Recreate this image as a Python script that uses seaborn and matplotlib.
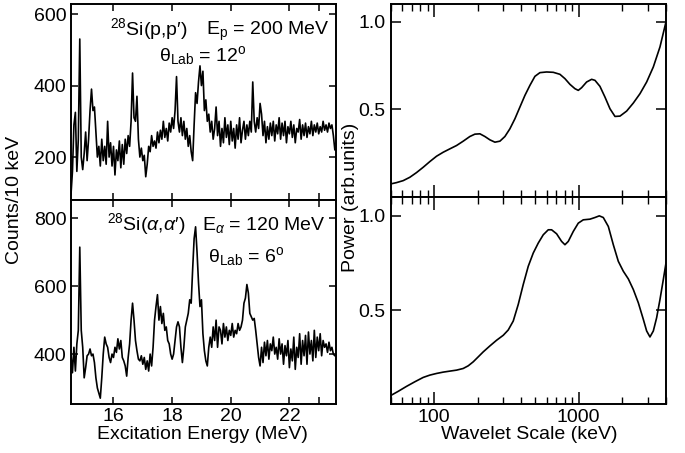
import numpy as np
import pandas as pd
import matplotlib
matplotlib.use("Agg")
import matplotlib.pyplot as plt
import seaborn as sns
from matplotlib.ticker import FixedLocator, FixedFormatter, NullFormatter, LogLocator

# ---------------- data ----------------
# excitation-energy channel grid (MeV)
e_start = 14.55
e_step = 0.05

# 28Si(p,p') Ep = 200 MeV, theta = 12 deg  (counts / 10 keV)
pp_counts = [
    95, 160, 290, 325, 160, 250, 530, 200, 165, 210, 270, 190, 250, 330, 390, 330, 340, 270, 200, 230,
    175, 250, 190, 230, 180, 300, 200, 240, 175, 230, 150, 220, 190, 245, 170, 235, 180, 250, 210, 260,
    230, 300, 435, 310, 300, 370, 250, 200, 225, 190, 205, 145, 180, 230, 215, 260, 230, 245, 225, 270,
    240, 275, 250, 300, 255, 280, 245, 295, 270, 310, 280, 330, 425, 300, 270, 310, 260, 300, 250, 280,
    230, 260, 215, 190, 290, 380, 350, 410, 455, 400, 440, 330, 360, 300, 320, 270, 300, 250, 280, 340,
    260, 300, 230, 280, 240, 310, 255, 290, 235, 300, 245, 280, 225, 290, 250, 310, 240, 275, 300, 250,
    290, 260, 300, 270, 410, 300, 270, 310, 280, 350, 320, 260, 300, 240, 285, 250, 295, 260, 300, 245,
    290, 265, 310, 250, 295, 260, 300, 240, 285, 265, 300, 255, 290, 240, 280, 270, 305, 250, 290, 260,
    295, 255, 285, 265, 300, 260, 290, 270, 295, 265, 285, 270, 300, 275, 290, 270, 295, 280, 290, 260,
    220,
]

# 28Si(a,a') Ea = 120 MeV, theta = 6 deg  (counts / 10 keV)
aa_counts = [
    400, 345, 420, 350, 430, 470, 715, 470, 420, 330, 360, 395, 400, 415, 395, 400, 375, 330, 300, 285,
    270, 330, 400, 450, 430, 420, 390, 375, 400, 390, 420, 405, 445, 415, 440, 390, 380, 365, 335, 390,
    430, 500, 550, 500, 440, 410, 385, 380, 395, 370, 390, 355, 380, 350, 400, 365, 420, 500, 540, 575,
    500, 540, 490, 520, 470, 480, 440, 430, 400, 385, 400, 440, 480, 495, 480, 420, 375, 420, 480, 500,
    520, 560, 550, 650, 740, 775, 700, 610, 540, 560, 460, 410, 380, 365, 420, 450, 420, 480, 440, 500,
    420, 480, 470, 430, 490, 450, 480, 440, 470, 455, 490, 450, 470, 460, 490, 470, 480, 500, 550, 565,
    605, 580, 520, 510, 500, 505, 470, 430, 390, 365, 420, 375, 435, 395, 440, 385, 430, 410, 450, 400,
    420, 385, 445, 400, 430, 370, 425, 395, 440, 360, 415, 380, 450, 355, 420, 390, 460, 370, 440, 395,
    455, 370, 465, 400, 440, 380, 470, 390, 450, 410, 460, 395, 440, 420, 430, 405, 435, 410, 420, 400,
    395,
]

# wavelet power spectra (scale in keV, power in arb. units)
scale_top = [49.8, 54.8, 61.0, 67.8, 75.4, 83.9, 93.3, 103.8, 115.5, 128.3, 142.8, 158.8, 176.6,
             191.3, 207.3, 224.4, 243.1, 263.3, 285.1, 308.8, 334.3, 362.2, 392.2, 424.9, 460.1,
             498.3, 539.6, 600.1, 667.5, 742.4, 804.2, 871.0, 943.2, 994.7, 1049, 1136, 1231, 1298,
             1405, 1522, 1649, 1786, 1934, 2151, 2392, 2660, 2959, 3291, 3660, 4028]
power_top = [0.0744, 0.0821, 0.0935, 0.1126, 0.1393, 0.1698, 0.2023, 0.2328, 0.2557, 0.2748,
             0.2939, 0.3187, 0.3454, 0.3588, 0.3607, 0.3454, 0.3263, 0.3130, 0.3187, 0.3454,
             0.3893, 0.4466, 0.5134, 0.5802, 0.6374, 0.6889, 0.7099, 0.7137, 0.7118, 0.7004,
             0.6756, 0.6431, 0.6183, 0.6088, 0.6240, 0.6565, 0.6718, 0.6660, 0.6317, 0.5706,
             0.5038, 0.4599, 0.4618, 0.4905, 0.5363, 0.5897, 0.6565, 0.7424, 0.8569, 1.0]

scale_bot = [49.8, 56.3, 64.3, 73.5, 83.9, 93.3, 103.8, 115.5, 128.3, 142.8, 158.8, 172.0, 186.3,
             201.8, 218.5, 243.1, 270.3, 300.7, 325.6, 352.7, 381.9, 413.6, 448.0, 485.2, 525.5,
             569.1, 616.4, 650.0, 704.0, 762.4, 804.2, 848.0, 918.5, 994.7, 1077, 1198, 1298, 1391,
             1482, 1606, 1739, 1883, 2040, 2209, 2392, 2591, 2806, 2959, 3120, 3291, 3470, 3660,
             3860, 4028]
power_bot = [0.0458, 0.0687, 0.0951, 0.1197, 0.1426, 0.1549, 0.1637, 0.1708, 0.1761, 0.1813,
             0.1901, 0.2042, 0.2254, 0.2518, 0.2782, 0.3099, 0.3398, 0.3662, 0.3944, 0.4419,
             0.5299, 0.6356, 0.7324, 0.8028, 0.8556, 0.8996, 0.9261, 0.9261, 0.9049, 0.8644,
             0.8468, 0.8644, 0.9173, 0.9613, 0.9789, 0.9824, 0.9912, 1.0, 0.9912, 0.9437,
             0.8468, 0.7588, 0.7060, 0.6655, 0.6092, 0.5387, 0.4507, 0.3891, 0.3574, 0.3891,
             0.4595, 0.5563, 0.6620, 0.7500]

# ---------------- style ----------------
sns.set_theme(style="ticks")
plt.rcParams["font.family"] = ["Liberation Sans", "DejaVu Sans"]
plt.rcParams["mathtext.fontset"] = "custom"
plt.rcParams["mathtext.rm"] = "Liberation Sans"
plt.rcParams["mathtext.it"] = "Liberation Sans:italic"
plt.rcParams["mathtext.bf"] = "Liberation Sans:bold"
plt.rcParams["axes.linewidth"] = 1.4
for k in ("text.color", "axes.labelcolor", "xtick.color", "ytick.color", "axes.edgecolor"):
    plt.rcParams[k] = "black"

TICK_FS = 14
LABEL_FS = 14
ANN_FS = 14

fig = plt.figure(figsize=(6.85, 4.53), dpi=100)

ax_pp = fig.add_axes([0.1032, 0.5585, 0.3869, 0.4327])
ax_aa = fig.add_axes([0.1032, 0.1075, 0.3869, 0.4510])
ax_wt = fig.add_axes([0.5704, 0.5651, 0.4019, 0.4254])
ax_wb = fig.add_axes([0.5704, 0.1075, 0.4019, 0.4576])

line_kw = dict(color="black", linewidth=1.2, legend=False)

df_pp = pd.DataFrame({"E": e_start + e_step * np.arange(len(pp_counts)), "c": pp_counts})
df_aa = pd.DataFrame({"E": e_start + e_step * np.arange(len(aa_counts)), "c": aa_counts})
sns.lineplot(data=df_pp, x="E", y="c", ax=ax_pp, **line_kw)
sns.lineplot(data=df_aa, x="E", y="c", ax=ax_aa, **line_kw)

df_wt = pd.DataFrame({"s": scale_top, "p": power_top})
df_wb = pd.DataFrame({"s": scale_bot, "p": power_bot})
sns.lineplot(data=df_wt, x="s", y="p", ax=ax_wt, **line_kw)
sns.lineplot(data=df_wb, x="s", y="p", ax=ax_wb, **line_kw)

# left panels
for ax in (ax_pp, ax_aa):
    ax.set_xlim(14.54, 23.58)
    ax.set_xlabel("")
    ax.set_ylabel("")
    ax.xaxis.set_major_locator(FixedLocator([16, 18, 20, 22, 23]))
    ax.tick_params(axis="both", which="major", direction="in", top=True, right=True,
                   length=5, width=1.1, labelsize=TICK_FS, pad=3, color="black")
ax_pp.set_ylim(80, 628)
ax_pp.yaxis.set_major_locator(FixedLocator([200, 400, 600]))
ax_pp.xaxis.set_major_formatter(NullFormatter())
ax_aa.set_ylim(252, 854)
ax_aa.yaxis.set_major_locator(FixedLocator([400, 600, 800]))
ax_aa.xaxis.set_major_formatter(FixedFormatter(["16", "18", "20", "22", ""]))

# right panels
for ax in (ax_wt, ax_wb):
    ax.set_xscale("log")
    ax.set_xlim(50, 4030)
    ax.set_ylim(0, 1.1)
    ax.set_xlabel("")
    ax.set_ylabel("")
    ax.xaxis.set_major_locator(FixedLocator([100, 1000]))
    ax.xaxis.set_minor_locator(LogLocator(base=10, subs=range(2, 10)))
    ax.xaxis.set_minor_formatter(NullFormatter())
    ax.yaxis.set_major_locator(FixedLocator([0.5, 1.0]))
    ax.yaxis.set_major_formatter(FixedFormatter(["0.5", "1.0"]))
    ax.tick_params(axis="x", which="major", direction="in", top=True, bottom=True,
                   length=9, width=1.1, labelsize=TICK_FS, color="black")
    ax.tick_params(axis="x", which="minor", direction="in", top=True, bottom=True,
                   length=5, width=1.0, color="black")
    ax.tick_params(axis="y", which="major", direction="in", left=True, right=True,
                   length=7, width=1.1, labelsize=TICK_FS, color="black")
ax_wt.xaxis.set_major_formatter(NullFormatter())
ax_wb.xaxis.set_major_formatter(FixedFormatter(["100", "1000"]))

for ax in (ax_pp, ax_aa, ax_wt, ax_wb):
    for s in ax.spines.values():
        s.set_color("black")
        s.set_linewidth(1.4)

# annotations
ax_pp.text(0.148, 0.842, r"$^{28}$Si(p,p′)", transform=ax_pp.transAxes, fontsize=ANN_FS,
           ha="left", va="baseline")
ax_pp.text(0.509, 0.842, r"E$_{\rm p}$ = 200 MeV", transform=ax_pp.transAxes, fontsize=ANN_FS,
           ha="left", va="baseline")
ax_pp.text(0.335, 0.711, r"θ$_{\rm Lab}$ = 12$^{\rm o}$", transform=ax_pp.transAxes, fontsize=ANN_FS,
           ha="left", va="baseline")

ax_aa.text(0.138, 0.853, r"$^{28}$Si($\alpha$,$\alpha$′)", transform=ax_aa.transAxes, fontsize=ANN_FS,
           ha="left", va="baseline")
ax_aa.text(0.494, 0.853, r"E$_{\alpha}$ = 120 MeV", transform=ax_aa.transAxes, fontsize=ANN_FS,
           ha="left", va="baseline")
ax_aa.text(0.519, 0.698, r"θ$_{\rm Lab}$ = 6$^{\rm o}$", transform=ax_aa.transAxes, fontsize=ANN_FS,
           ha="left", va="baseline")

# axis labels
fig.text(0.021, 0.558, "Counts/10 keV", rotation=90, ha="center", va="center", fontsize=LABEL_FS)
fig.text(0.511, 0.565, "Power (arb.units)", rotation=90, ha="center", va="center", fontsize=LABEL_FS)
fig.text(0.295, 0.040, "Excitation Energy (MeV)", ha="center", va="center", fontsize=LABEL_FS)
fig.text(0.773, 0.040, "Wavelet Scale (keV)", ha="center", va="center", fontsize=LABEL_FS)

fig.savefig("out.png", dpi=100)
